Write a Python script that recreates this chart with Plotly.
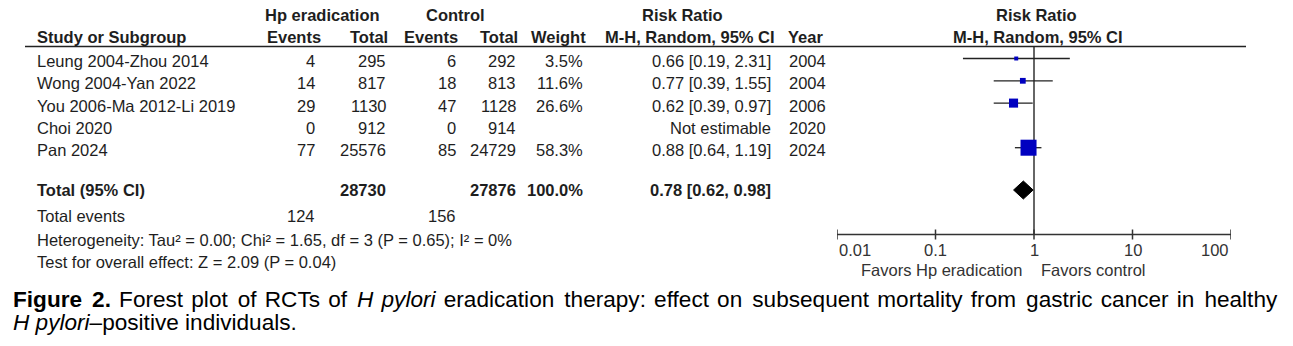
import numpy as np
import plotly.graph_objects as go

W, H = 1293, 346

# ---------------- data ----------------
studies = ["Leung 2004-Zhou 2014", "Wong 2004-Yan 2022", "You 2006-Ma 2012-Li 2019", "Choi 2020", "Pan 2024"]
hp_events = [4, 14, 29, 0, 77]
hp_total = [295, 817, 1130, 912, 25576]
ctl_events = [6, 18, 47, 0, 85]
ctl_total = [292, 813, 1128, 914, 24729]
weights = [3.5, 11.6, 26.6, None, 58.3]
rr = [0.66, 0.77, 0.62, None, 0.88]
rr_lo = [0.19, 0.39, 0.39, None, 0.64]
rr_hi = [2.31, 1.55, 0.97, None, 1.19]
years = [2004, 2004, 2006, 2020, 2024]

total_hp = 28730
total_ctl = 27876
total_weight = 100.0
pooled_rr = 0.78
pooled_lo = 0.62
pooled_hi = 0.98
events_hp_sum = 124
events_ctl_sum = 156
heterogeneity = "Heterogeneity: Tau² = 0.00; Chi² = 1.65, df = 3 (P = 0.65); I² = 0%"
overall_test = "Test for overall effect: Z = 2.09 (P = 0.04)"

tick_vals = [0.01, 0.1, 1, 10, 100]
tick_labels = ["0.01", "0.1", "1", "10", "100"]
favors_left = "Favors Hp eradication"
favors_right = "Favors control"

caption1_words = ["<b>Figure", "2.</b>", "Forest", "plot", "of", "RCTs", "of", "<i>H", "pylori</i>",
                  "eradication", "therapy:", "effect", "on", "subsequent", "mortality", "from",
                  "gastric", "cancer", "in", "healthy"]
caption2 = "<i>H pylori</i>–positive individuals."

# ---------------- layout constants (pixels) ----------------
FONT = "Liberation Sans, Arial, Helvetica, sans-serif"
FS = 16.5
TXT = "#1e1e1e"
row0, row_step = 61, 22.3
row_y = [row0 + i * row_step for i in range(len(studies))]
total_y = 190
events_y = 216
het_y = 240
test_y = 262
head1_y, head2_y = 14.5, 37
rule_y = 46.5
axis_y = 234.5
ticklab_y = 250
favors_y = 270
mark_off = -2.5

fig = go.Figure()

ann = []


def text(s, x, y, anchor="left", bold=False, size=FS, color=TXT):
    if bold:
        s = "<b>" + s + "</b>"
    ann.append(dict(text=s, x=x / W, y=y, xref="paper", yref="y", xanchor=anchor,
                    yanchor="middle", showarrow=False,
                    font=dict(family=FONT, size=size, color=color)))


# headers
text("Hp eradication", 322.5, head1_y, "center", True)
text("Control", 455.5, head1_y, "center", True)
text("Risk Ratio", 682, head1_y, "center", True)
text("Risk Ratio", 1036, head1_y, "center", True)
text("Study or Subgroup", 35, head2_y, "left", True)
text("Events", 323, head2_y, "right", True)
text("Total", 390, head2_y, "right", True)
text("Events", 460, head2_y, "right", True)
text("Total", 520, head2_y, "right", True)
text("Weight", 588, head2_y, "right", True)
text("M-H, Random, 95% CI", 777, head2_y, "right", True)
text("Year", 786, head2_y, "left", True)
text("M-H, Random, 95% CI", 1038, head2_y, "center", True)

# study rows
for i, s in enumerate(studies):
    y = row_y[i]
    text(s, 35, y, "left")
    text(str(hp_events[i]), 317, y, "right")
    text(str(hp_total[i]), 388, y, "right")
    text(str(ctl_events[i]), 458, y, "right")
    text(str(ctl_total[i]), 518, y, "right")
    if weights[i] is not None:
        text(f"{weights[i]:.1f}%", 585, y, "right")
        text(f"{rr[i]:.2f} [{rr_lo[i]:.2f}, {rr_hi[i]:.2f}]", 773, y, "right")
    else:
        text("Not estimable", 773, y, "right")
    text(str(years[i]), 787, y, "left")

# totals
text("Total (95% CI)", 35, total_y, "left", True)
text(str(total_hp), 388, total_y, "right", True)
text(str(total_ctl), 518, total_y, "right", True)
text(f"{total_weight:.1f}%", 585, total_y, "right", True)
text(f"{pooled_rr:.2f} [{pooled_lo:.2f}, {pooled_hi:.2f}]", 773, total_y, "right", True)
text("Total events", 35, events_y, "left")
text(str(events_hp_sum), 317, events_y, "right")
text(str(events_ctl_sum), 458, events_y, "right")
text(heterogeneity, 35, het_y, "left")
text(overall_test, 35, test_y, "left")

# axis tick labels (x in log units for annotations on log axis)
for k, (v, lab) in enumerate(zip(tick_vals, tick_labels)):
    anc = "left" if k == 0 else ("right" if k == len(tick_vals) - 1 else "center")
    ann.append(dict(text=lab, x=np.log10(v), y=ticklab_y, xref="x", yref="y",
                    xanchor=anc, yanchor="middle", showarrow=False,
                    font=dict(family=FONT, size=FS, color="#333333")))
ann.append(dict(text=favors_left, x=np.log10(1), xshift=-10, y=favors_y, xref="x", yref="y",
                xanchor="right", yanchor="middle", showarrow=False,
                font=dict(family=FONT, size=FS, color="#333333")))
ann.append(dict(text=favors_right, x=np.log10(1), xshift=5, y=favors_y, xref="x", yref="y",
                xanchor="left", yanchor="middle", showarrow=False,
                font=dict(family=FONT, size=FS, color="#333333")))

# caption (first line justified with hair spaces)
gaps = [" \u200a\u200a" if g % 3 == 0 else " \u200a" for g in range(len(caption1_words) - 1)]
caption1 = caption1_words[0] + "".join(g + w for g, w in zip(gaps, caption1_words[1:]))
for cap, cy in [(caption1, 299), (caption2, 322.5)]:
    ann.append(dict(text=cap, x=11 / W, y=cy, xref="paper", yref="y", xanchor="left",
                    yanchor="middle", showarrow=False,
                    font=dict(family=FONT, size=22.6, color="#000000")))

# ---------------- marks ----------------
LINEC = "#222222"
AXC = "#333333"
# line of no effect
fig.add_trace(go.Scatter(x=[1, 1], y=[rule_y, axis_y], mode="lines",
                         line=dict(color=AXC, width=1.5), hoverinfo="skip"))
# axis line
fig.add_trace(go.Scatter(x=[tick_vals[0], tick_vals[-1]], y=[axis_y, axis_y], mode="lines",
                         line=dict(color=AXC, width=1.5), hoverinfo="skip"))
# ticks
for v in tick_vals:
    fig.add_trace(go.Scatter(x=[v, v], y=[axis_y - 5, axis_y + 5], mode="lines",
                             line=dict(color=AXC, width=1.5), hoverinfo="skip"))

# whiskers + squares
for i in range(len(studies)):
    if rr[i] is None:
        continue
    y = row_y[i] + mark_off
    fig.add_trace(go.Scatter(x=[rr_lo[i], rr_hi[i]], y=[y, y], mode="lines",
                             line=dict(color=LINEC, width=1.3), hoverinfo="skip"))
mx = [rr[i] for i in range(len(studies)) if rr[i] is not None]
my = [row_y[i] + mark_off for i in range(len(studies)) if rr[i] is not None]
ms = [3.2 + 0.22 * weights[i] for i in range(len(studies)) if rr[i] is not None]
fig.add_trace(go.Scatter(x=mx, y=my, mode="markers",
                         marker=dict(symbol="square", size=ms, color="#0000C0", opacity=1,
                                     line=dict(width=0)), hoverinfo="skip"))

# diamond
dh = 9
fig.add_trace(go.Scatter(x=[pooled_lo, pooled_rr, pooled_hi, pooled_rr, pooled_lo],
                         y=[total_y, total_y - dh, total_y, total_y + dh, total_y],
                         mode="lines", fill="toself", fillcolor="#000000",
                         line=dict(color="#000000", width=1), hoverinfo="skip"))

fig.update_layout(
    width=W, height=H, autosize=False,
    margin=dict(l=0, r=0, t=0, b=0, pad=0),
    paper_bgcolor="white", plot_bgcolor="white",
    showlegend=False,
    xaxis=dict(type="log", range=[-2, 2], domain=[837 / W, 1231 / W], visible=False, fixedrange=True),
    yaxis=dict(range=[H, 0], domain=[0, 1], visible=False, fixedrange=True),
    annotations=ann,
    shapes=[dict(type="line", xref="paper", yref="y", x0=25 / W, x1=1246 / W,
                 y0=rule_y, y1=rule_y, line=dict(color="#222222", width=1.5))],
)

fig.write_html("out.html", config={"displayModeBar": False})
